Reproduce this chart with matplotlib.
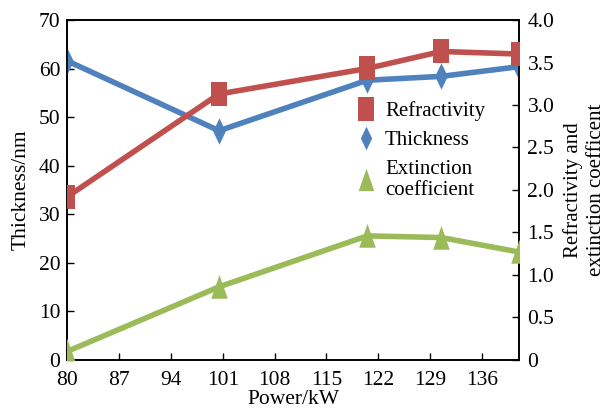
import matplotlib.pyplot as plt
from matplotlib.lines import Line2D

plt.rcParams['font.family'] = ['Liberation Serif', 'DejaVu Serif']

# sputtering power and film properties
power = [80, 100.5, 120.5, 130.5, 141]
thickness = [61.6, 47.2, 57.6, 58.4, 60.4]
refractivity = [1.92, 3.13, 3.43, 3.63, 3.60]
extinction = [0.10, 0.86, 1.46, 1.44, 1.27]

x_ticks = [80, 87, 94, 101, 108, 115, 122, 129, 136]
left_ticks = [0, 10, 20, 30, 40, 50, 60, 70]
right_ticks = [0, 0.5, 1.0, 1.5, 2.0, 2.5, 3.0, 3.5, 4.0]
right_labels = ['0', '0.5', '1.0', '1.5', '2.0', '2.5', '3.0', '3.5', '4.0']

red = '#C0504D'
blue = '#4F81BD'
green = '#9BBB59'

# tall narrow marker shapes
rect = [(-0.33, -0.5), (0.33, -0.5), (0.33, 0.5), (-0.33, 0.5), (-0.33, -0.5)]
diamond = [(0, -0.5), (0.24, 0), (0, 0.5), (-0.24, 0), (0, -0.5)]
tri = [(-0.33, -0.45), (0.33, -0.45), (0, 0.5), (-0.33, -0.45)]

fig = plt.figure(figsize=(6.05, 4.09), dpi=100)
ax = fig.add_axes([0.111, 0.12, 0.747, 0.831])
ax2 = ax.twinx()

ax.plot(power, thickness, color=blue, lw=4, marker=diamond, ms=19,
        markeredgewidth=0, zorder=3)
ax2.plot(power, refractivity, color=red, lw=4, marker=rect, ms=17,
         markeredgewidth=0, zorder=3)
ax2.plot(power, extinction, color=green, lw=4, marker=tri, ms=18,
         markeredgewidth=0, zorder=3)

ax.set_xlim(80, 141)
ax.set_ylim(0, 70)
ax2.set_ylim(0, 4.0)
ax.set_xticks(x_ticks)
ax.set_yticks(left_ticks)
ax2.set_yticks(right_ticks)
ax2.set_yticklabels(right_labels)

for a in (ax, ax2):
    a.tick_params(direction='in', length=5, width=1, labelsize=15.5)
    for s in a.spines.values():
        s.set_linewidth(1.2)
ax.tick_params(axis='x', pad=8)
ax.tick_params(axis='y', pad=5)
ax2.tick_params(axis='y', pad=6)

ax.set_xlabel('Power/kW', fontsize=15.5, labelpad=0)
ax.set_ylabel('Thickness/nm', fontsize=15.5, labelpad=6)
fig.text(0.9665, 0.535, 'Refractivity and\nextinction coefficent',
         rotation=90, ha='center', va='center', fontsize=15,
         linespacing=1.3, multialignment='center')

handles = [
    Line2D([], [], ls='none', marker=rect, ms=17, color=red, markeredgewidth=0),
    Line2D([], [], ls='none', marker=diamond, ms=17, color=blue, markeredgewidth=0),
    Line2D([], [], ls='none', marker=tri, ms=17, color=green, markeredgewidth=0),
]
ax.legend(handles, ['Refractivity', 'Thickness', 'Extinction\ncoefficient'],
          loc='upper left', bbox_to_anchor=(0.625, 0.785), frameon=False,
          fontsize=15, handlelength=0.8, handletextpad=0.5,
          labelspacing=0.45, borderaxespad=0)

fig.savefig('out.png', dpi=100)
